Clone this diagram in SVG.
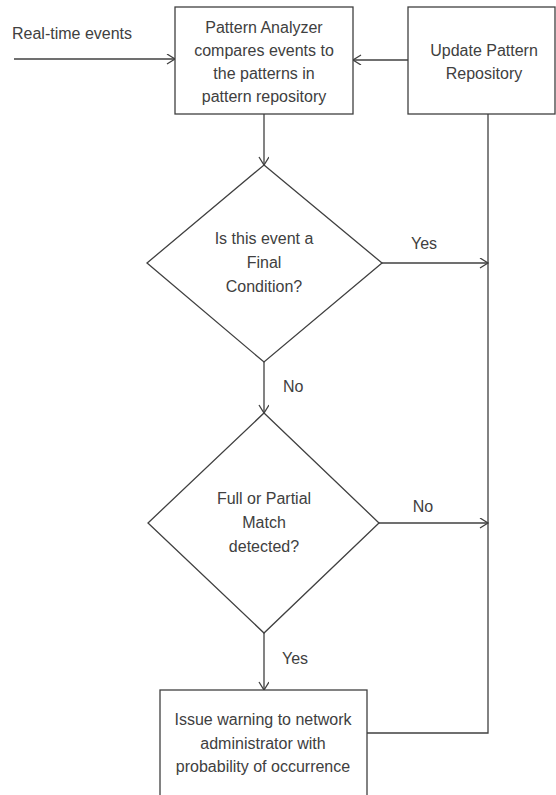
<svg xmlns="http://www.w3.org/2000/svg" width="556" height="795" viewBox="0 0 556 795">
<style>
.shape{fill:#ffffff;stroke:#404040;stroke-width:1.3}
.ln{fill:none;stroke:#404040;stroke-width:1.3}
text{font-family:"Liberation Sans",Arial,sans-serif;font-size:16px;fill:#404040}
.c{text-anchor:middle}
</style>
<defs>
<marker id="arr" markerWidth="12" markerHeight="12" refX="9" refY="5" orient="auto" markerUnits="userSpaceOnUse">
<path d="M1,0 L9,5 L1,10" fill="none" stroke="#404040" stroke-width="1.3"/>
</marker>
</defs>
<rect width="556" height="795" fill="#ffffff"/>
<g id="connectors">
<line class="ln" x1="14" y1="59" x2="175" y2="59" marker-end="url(#arr)"/>
<line class="ln" x1="408" y1="60" x2="353" y2="60" marker-end="url(#arr)"/>
<line class="ln" x1="264" y1="114" x2="264" y2="165" marker-end="url(#arr)"/>
<line class="ln" x1="264" y1="362" x2="264" y2="413" marker-end="url(#arr)"/>
<line class="ln" x1="264" y1="633" x2="264" y2="690" marker-end="url(#arr)"/>
<line class="ln" x1="382" y1="263" x2="488" y2="263" marker-end="url(#arr)"/>
<line class="ln" x1="379" y1="523" x2="488" y2="523" marker-end="url(#arr)"/>
<polyline class="ln" points="367,733 488,733 488,114"/>
<text x="12" y="39">Real-time events</text>
<text class="c" x="424" y="249">Yes</text>
<text x="283" y="392">No</text>
<text class="c" x="423" y="512">No</text>
<text class="c" x="295" y="664">Yes</text>
</g>
<g id="analyzer">
<rect class="shape" x="175" y="7" width="178" height="107"/>
<text class="c" x="264" y="33">Pattern Analyzer</text>
<text class="c" x="264" y="56">compares events to</text>
<text class="c" x="264" y="79">the patterns in</text>
<text class="c" x="264" y="102">pattern repository</text>
</g>
<g id="update">
<rect class="shape" x="408" y="7" width="147" height="107"/>
<text class="c" x="484" y="56">Update Pattern</text>
<text class="c" x="484" y="79">Repository</text>
</g>
<g id="final">
<polygon class="shape" points="264,165 382,263 264,362 147,263"/>
<text class="c" x="264" y="244">Is this event a</text>
<text class="c" x="264" y="268">Final</text>
<text class="c" x="264" y="292">Condition?</text>
</g>
<g id="match">
<polygon class="shape" points="264,413 379,523 264,633 148,523"/>
<text class="c" x="264" y="504">Full or Partial</text>
<text class="c" x="264" y="528">Match</text>
<text class="c" x="264" y="552">detected?</text>
</g>
<g id="warning">
<rect class="shape" x="160" y="690" width="207" height="120"/>
<text class="c" x="263" y="725">Issue warning to network</text>
<text class="c" x="263" y="749">administrator with</text>
<text class="c" x="263" y="772">probability of occurrence</text>
</g>
</svg>
